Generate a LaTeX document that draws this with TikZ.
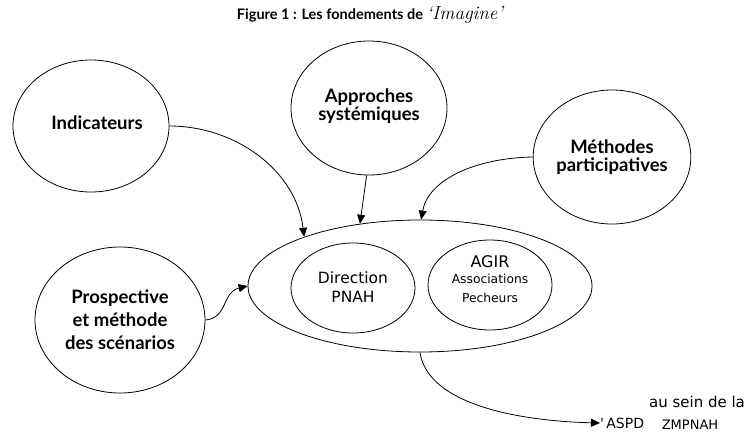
\documentclass[tikz,border=0pt]{standalone}
\usepackage{fontspec}
\usetikzlibrary{shapes.geometric,arrows.meta}
\newfontfamily\latof{Lato}
\newfontfamily\dvs{DejaVu Sans}
\begin{document}
\begin{tikzpicture}[x=1pt,y=-1pt,
  bubble/.style={ellipse,draw,line width=0.8pt,inner sep=0pt,align=center,font=\latof\bfseries\fontsize{18.5}{21}\selectfont},
  inner/.style={ellipse,draw,line width=0.8pt,inner sep=0pt,align=center},
  conn/.style={line width=0.8pt,-{Triangle[length=9pt,width=8pt]}},
  lbl/.style={inner sep=0pt,font=\dvs\fontsize{14}{16}\selectfont}]
\useasboundingbox (0,0) rectangle (747,434);
\node[inner sep=0pt] (title) at (370,15) {\latof\bfseries\fontsize{14.5}{16}\selectfont Figure 1 : Les fondements de {\normalfont\itshape\fontsize{19}{16}\selectfont `Imagine'}};
\node[bubble,minimum width=156pt,minimum height=132pt] (ind) at (91,126) {\raisebox{6pt}{\hspace{12pt}Indicateurs}};
\node[bubble,minimum width=156pt,minimum height=134pt] (app) at (369,108) {\raisebox{6pt}{Approches}\\[-3pt]\raisebox{6pt}{systémiques}};
\node[bubble,minimum width=156pt,minimum height=134pt] (met) at (612,157) {Méthodes\\[-3pt]participatives};
\node[bubble,minimum width=170pt,minimum height=146pt] (pro) at (120,320) {Prospective\\[2pt]et méthode\\[2pt]des scénarios};
\node[ellipse,draw,line width=0.8pt,inner sep=0pt,minimum width=344pt,minimum height=132pt] (big) at (420,286) {};
\node[inner,minimum width=124pt,minimum height=90pt,font=\dvs\fontsize{15.5}{19}\selectfont] (dir) at (353,288) {\raisebox{2pt}{Direction}\\\raisebox{2pt}{PNAH}};
\node[inner,minimum width=124pt,minimum height=90pt] (agir) at (490,285) {\raisebox{12pt}{\dvs\fontsize{16}{18}\selectfont AGIR}\\[-6pt]\raisebox{12pt}{\dvs\fontsize{12.3}{15}\selectfont Associations}\\[-3pt]\raisebox{12pt}{\dvs\fontsize{12.3}{15}\selectfont Pecheurs}};
\node[lbl,anchor=west] (aspd) at (600,423) {'\,ASPD};
\node[lbl,font=\dvs\fontsize{15}{17}\selectfont] (sein) at (697,402) {au sein de la};
\node[lbl,font=\dvs\fontsize{13}{15}\selectfont] (zmp) at (690,425) {ZMPNAH};
\draw[conn] (ind.east) .. controls (235,126) and (296,170) .. (big.157);
\draw[conn] (app.-92) -- (big.134);
\draw[conn] (met.west) .. controls (475,158) and (428,180) .. (big.89);
\draw[conn] (pro.east) .. controls (228,318) and (222,292) .. (big.west);
\draw[conn] (big.270) .. controls (428,405) and (520,421) .. (aspd.west);
\end{tikzpicture}
\end{document}
